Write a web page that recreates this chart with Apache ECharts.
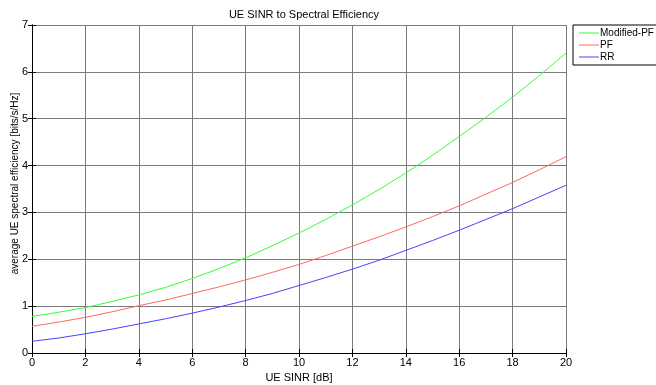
<!DOCTYPE html>
<html>
<head>
<meta charset="utf-8">
<script src="https://cdn.jsdelivr.net/npm/echarts@6/dist/echarts.min.js"></script>
<style>
    html, body { margin: 0; padding: 0; background: #fff; }
    #chart { width: 656px; height: 385px; }
</style>
</head>
<body>
<div id="chart"></div>
<script>
// x 轴 SINR 取值
var sinr = [0, 1, 2, 3, 4, 5, 6, 7, 8, 9, 10, 11, 12, 13, 14, 15, 16, 17, 18, 19, 20];
// 三条曲线
var modifiedPF = [0.78, 0.87, 0.97, 1.10, 1.24, 1.40, 1.59, 1.80, 2.03, 2.29, 2.56, 2.85, 3.16, 3.49, 3.84, 4.22, 4.62, 5.03, 5.46, 5.92, 6.40];
var pf = [0.57, 0.66, 0.76, 0.88, 1.01, 1.13, 1.27, 1.41, 1.56, 1.72, 1.89, 2.08, 2.28, 2.48, 2.69, 2.91, 3.14, 3.39, 3.64, 3.91, 4.19];
var rr = [0.25, 0.32, 0.41, 0.51, 0.62, 0.73, 0.85, 0.98, 1.12, 1.27, 1.44, 1.61, 1.79, 1.98, 2.19, 2.40, 2.62, 2.85, 3.08, 3.33, 3.58];
var seriesNames = ["Modified-PF", "PF", "RR"];

(function () {
    var myChart = echarts.init(document.getElementById("chart"));
    var font = "'Liberation Sans', Arial, sans-serif";

    function pairs(ys) {
        return sinr.map(function (x, i) { return [x, ys[i]]; });
    }
    function lineSeries(name, ys, color) {
        return {
            name: name,
            type: "line",
            data: pairs(ys),
            showSymbol: false,
            symbol: "none",
            smooth: false,
            lineStyle: { color: color, width: 1 },
            itemStyle: { color: color },
            animation: false
        };
    }
    // 坐标轴公共样式（MATLAB风格：黑框，刻度朝内）
    var axisLine = { show: true, lineStyle: { color: "#000", width: 1 } };
    var axisTick = { show: true, inside: true, length: 4, lineStyle: { color: "#000" } };
    var gridLine = { show: true, lineStyle: { color: "#7a7a7a", width: 1 } };

    var option = {
        backgroundColor: "#fff",
        title: {
            text: "UE SINR to Spectral Efficiency",
            left: 299,
            textAlign: "center",
            top: 4,
            textStyle: { fontFamily: font, fontSize: 11, fontWeight: "normal", color: "#000" }
        },
        legend: {
            data: seriesNames,
            orient: "vertical",
            left: 573,
            top: 25,
            width: 82,
            backgroundColor: "#fff",
            borderColor: "#000",
            borderWidth: 1,
            padding: [3, 3, 3, 6],
            itemGap: 2,
            itemWidth: 20,
            itemHeight: 1,
            icon: "rect",
            textStyle: { fontFamily: font, fontSize: 10, color: "#000", padding: [0, 0, 0, -4] }
        },
        grid: { left: 32, right: 90, top: 25, bottom: 32, containLabel: false, outerBoundsMode: "none" },
        xAxis: [
            {
                type: "value",
                min: 0,
                max: 20,
                interval: 2,
                name: "UE SINR [dB]",
                nameLocation: "middle",
                nameGap: 19,
                nameMoveOverlap: false,
                nameTextStyle: { fontFamily: font, fontSize: 11, color: "#000" },
                axisLine: axisLine,
                axisTick: axisTick,
                axisLabel: { fontFamily: font, fontSize: 11, color: "#000", margin: 4 },
                splitLine: gridLine
            },
            {
                type: "value",
                position: "top",
                min: 0,
                max: 20,
                interval: 2,
                axisLine: axisLine,
                axisTick: axisTick,
                axisLabel: { show: false },
                splitLine: { show: false }
            }
        ],
        yAxis: [
            {
                type: "value",
                min: 0,
                max: 7,
                interval: 1,
                name: "average UE spectral efficiency [bits/s/Hz]",
                nameLocation: "middle",
                nameGap: 12,
                nameMoveOverlap: false,
                nameTextStyle: { fontFamily: font, fontSize: 10, color: "#000", padding: [0, 0, 0, 11] },
                axisLine: axisLine,
                axisTick: axisTick,
                axisLabel: { fontFamily: font, fontSize: 11, color: "#000", margin: 4 },
                splitLine: gridLine
            },
            {
                type: "value",
                position: "right",
                min: 0,
                max: 7,
                interval: 1,
                axisLine: axisLine,
                axisTick: axisTick,
                axisLabel: { show: false },
                splitLine: { show: false }
            }
        ],
        series: [
            lineSeries(seriesNames[0], modifiedPF, "#33ff33"),
            lineSeries(seriesNames[1], pf, "#ff6666"),
            lineSeries(seriesNames[2], rr, "#4444ff")
        ]
    };
    myChart.setOption(option);
    window.addEventListener("resize", function () {
        myChart.resize();
    });
})();
</script>
</body>
</html>
